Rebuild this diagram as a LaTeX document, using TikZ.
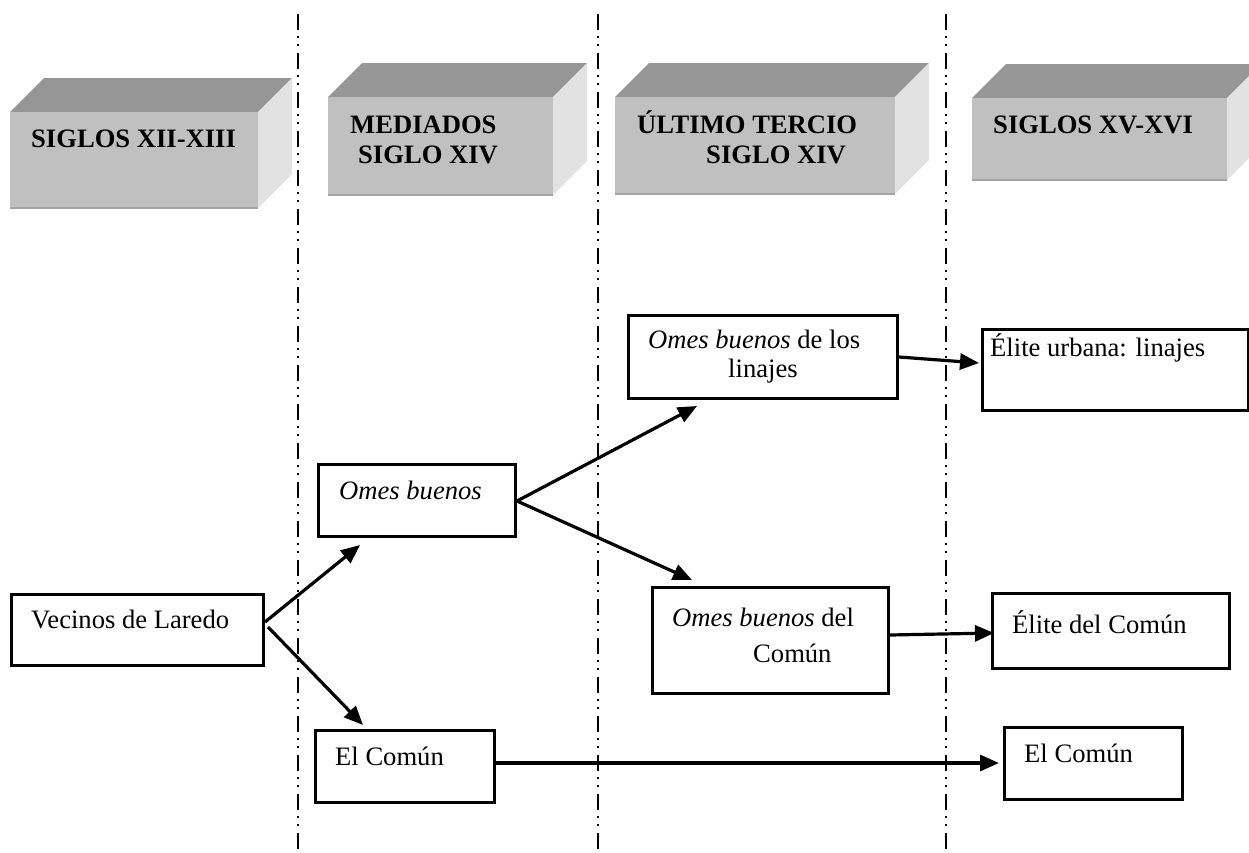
\documentclass[tikz,border=0pt]{standalone}
\usepackage{fontspec}
\setmainfont{Liberation Serif}
\usetikzlibrary{arrows.meta,calc}

\definecolor{topgray}{HTML}{969696}
\definecolor{frontgray}{HTML}{C0C0C0}
\definecolor{sidegray}{HTML}{E2E2E2}
\definecolor{edgegray}{HTML}{A4A4A4}

% A period heading drawn as a shaded block: x0, y0, x1, y1 of the front face, node name
\newcommand\drawslab[5]{%
  \fill[topgray] (#1,#2) -- (#1+34,#2-34) -- (#3+34,#2-34) -- (#3,#2) -- cycle;
  \fill[sidegray] (#3,#2) -- (#3+34,#2-34) -- (#3+34,#4-34) -- (#3,#4) -- cycle;
  \node[slabface, anchor=north west, minimum width={(#3-#1)*1pt}, minimum height={(#4-#2)*1pt}] (#5) at (#1,#2) {};
  \draw[edgegray, line width=2pt] (#5.south west) -- (#5.south east);
}

\begin{document}
\begin{tikzpicture}[x=1pt, y=-1pt,
  txt/.style={anchor=base west, inner sep=0pt, font=\fontsize{26.6}{30}\selectfont},
  hdr/.style={txt, font=\fontsize{26.6}{30}\selectfont\bfseries},
  slabface/.style={rectangle, fill=frontgray, inner sep=0pt},
  boxn/.style={rectangle, draw=black, line width=3pt, fill=white, inner sep=0pt, anchor=north west},
  flow/.style={line width=3.2pt, -{Triangle[length=19pt, width=16pt]}},
  period/.style={line width=2.3pt, dash pattern=on 16pt off 6pt on 2pt off 6pt on 2pt off 7pt}
]
\useasboundingbox (0,0) rectangle (1249,852);

% period separators
\coordinate (s1t) at (298,14);  \coordinate (s1b) at (298,852);
\coordinate (s2t) at (598,14);  \coordinate (s2b) at (598,852);
\coordinate (s3t) at (946,14);  \coordinate (s3b) at (946,852);
\draw[period] (s1t) -- (s1b);
\draw[period] (s2t) -- (s2b);
\draw[period] (s3t) -- (s3b);

% period headings
\drawslab{10}{112}{258}{208}{h1}
\drawslab{328}{97}{553}{195}{h2}
\drawslab{615}{97}{895}{194}{h3}
\drawslab{972}{98}{1227}{180}{h4}
\node[hdr] (h1a) at (31,147) {SIGLOS XII-XIII};
\node[hdr] (h2a) at (350,133) {MEDIADOS};
\node[hdr] (h2b) at (358,163) {SIGLO XIV};
\node[hdr] (h3a) at (637,133) {ÚLTIMO TERCIO};
\node[hdr] (h3b) at (706,163) {SIGLO XIV};
\node[hdr] (h4a) at (993,133) {SIGLOS XV-XVI};

% groups
\node[boxn, minimum width=252pt, minimum height=71pt] (vec) at (10,593) {};
\node[boxn, minimum width=197pt, minimum height=72pt] (ob) at (317,463) {};
\node[boxn, minimum width=179pt, minimum height=72pt] (com) at (314,729) {};
\node[boxn, minimum width=269pt, minimum height=83pt] (obl) at (627,314) {};
\node[boxn, minimum width=236pt, minimum height=106pt] (obc) at (651,586) {};
\node[boxn, minimum width=266pt, minimum height=81pt] (eu) at (981,328) {};
\node[boxn, minimum width=237pt, minimum height=75pt] (ec) at (991,592) {};
\node[boxn, minimum width=178pt, minimum height=72pt] (com2) at (1003,726) {};

\node[txt] (vect) at (31,628) {Vecinos de Laredo};
\node[txt] (obt) at (339,499) {\itshape Omes buenos};
\node[txt] (comt) at (335,765) {El Común};
\node[txt] (oblt1) at (648,348) {\textit{Omes buenos} de los};
\node[txt] (oblt2) at (728,377) {linajes};
\node[txt] (obct1) at (672,626) {\textit{Omes buenos} del};
\node[txt] (obct2) at (753,662) {Común};
\node[txt] (eut) at (990,356) {Élite urbana: linajes};
\node[txt] (ect) at (1012,633) {Élite del Común};
\node[txt] (com2t) at (1024,762) {El Común};

% transitions
\draw[flow] ($(vec.north east)+(0,29)$) -- ($(ob.south west)+(43,7)$);
\draw[flow] ($(vec.north east)+(3,34)$) -- ($(com.north west)+(49,-4)$);
\draw[flow] ($(ob.north east)+(0,38)$) -- ($(obl.south west)+(70,6)$);
\draw[flow] ($(ob.north east)+(0,38)$) -- ($(obc.north west)+(41,-6)$);
\draw[flow] ($(obl.north east)+(0,43)$) -- ($(eu.north west)+(-2,35)$);
\draw[flow] ($(obc.north east)+(0,49)$) -- ($(ec.north west)+(3,41)$);
\draw[flow] ($(com.north east)+(0,34)$) -- ($(com2.north west)+(-4,37)$);
\end{tikzpicture}
\end{document}
